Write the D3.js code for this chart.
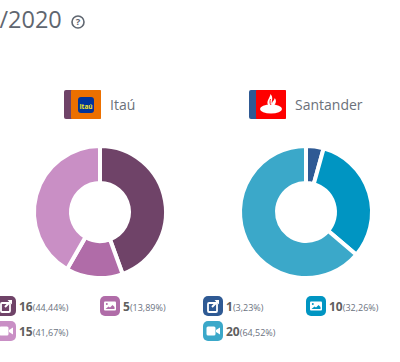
<!DOCTYPE html>
<html>
<head>
<meta charset="utf-8">
<script src="https://cdnjs.cloudflare.com/ajax/libs/d3/7.8.5/d3.min.js"></script>
<style>
  html, body { margin: 0; padding: 0; background: #fff; overflow: hidden; }
  svg { display: block; font-family: "Open Sans", sans-serif; }
</style>
</head>
<body>
<svg id="chart"></svg>
<script>
const banks = ["Itaú", "Santander"];
const itauValues = [16, 5, 15];
const itauPercents = ["44,44%", "13,89%", "41,67%"];
const itauColors = ["#6f4368", "#b06ca8", "#c98fc5"];
const santanderValues = [1, 10, 20];
// the smallest slice is drawn a bit wider than 1/31 in the picture
const santanderSlices = [1.35, 10, 20];
const santanderPercents = ["3,23%", "32,26%", "64,52%"];
const santanderColors = ["#2f5a94", "#0095c2", "#3ba8c9"];
const iconTypes = ["link", "image", "video"];

const width = 400, height = 362;
const svg = d3.select("#chart").attr("width", width).attr("height", height);

// title, cut off by the left edge like in the screenshot
svg.append("text").attr("x", -14).attr("y", 28)
  .attr("font-size", 23.5).attr("fill", "#5f6670").text("0/2020");

// help icon
const help = svg.append("g").attr("transform", "translate(78,22)");
help.append("circle").attr("r", 6).attr("fill", "none").attr("stroke", "#5f6670").attr("stroke-width", 1.6);
help.append("text").attr("text-anchor", "middle").attr("y", 3.4).attr("font-size", 9.5)
  .attr("font-weight", 700).attr("fill", "#5f6670").text("?");

function drawIcon(g, type) {
  if (type === "link") {
    g.append("rect").attr("x", 5).attr("y", 7).attr("width", 9).attr("height", 9).attr("rx", 1)
      .attr("fill", "none").attr("stroke", "#fff").attr("stroke-width", 1.8);
    g.append("path").attr("d", "M9 11L15 5").attr("stroke", "#fff").attr("stroke-width", 2);
    g.append("path").attr("d", "M11.5 4H16V8.5Z").attr("fill", "#fff");
  } else if (type === "image") {
    g.append("rect").attr("x", 4).attr("y", 5.5).attr("width", 12).attr("height", 9).attr("rx", 1).attr("fill", "#fff");
    g.append("circle").attr("cx", 6.8).attr("cy", 8).attr("r", 1).attr("fill", g.attr("data-color"));
    g.append("path").attr("d", "M5.5 13L8.5 10.5L10 11.5L12.5 9L14.5 11V13Z").attr("fill", g.attr("data-color"));
  } else {
    g.append("rect").attr("x", 3.5).attr("y", 5.5).attr("width", 9).attr("height", 9).attr("rx", 1.5).attr("fill", "#fff");
    g.append("path").attr("d", "M13 9L17 6.5V13.5L13 11Z").attr("fill", "#fff");
  }
}

function drawBank(name, values, slices, percents, colors, opt) {
  // logo block with colour strip
  const logo = svg.append("g").attr("transform", `translate(${opt.logoX},90)`);
  logo.append("rect").attr("width", 37).attr("height", 29).attr("rx", 2).attr("fill", colors[0]);
  logo.append("rect").attr("x", 7).attr("width", 30).attr("height", 29).attr("rx", 1).attr("fill", opt.logoColor);
  opt.drawLogo(logo);
  svg.append("text").attr("x", opt.logoX + 46).attr("y", 109.5)
    .attr("font-size", 14).attr("fill", "#6b717a").text(name);

  // donut, the white stroke takes 2px off each edge
  const pie = d3.pie().sort(null).value(d => d);
  const arc = d3.arc().innerRadius(29).outerRadius(66);
  const donut = svg.append("g").attr("transform", `translate(${opt.cx},212)`);
  donut.selectAll("path").data(pie(slices)).join("path")
    .attr("d", arc)
    .attr("fill", (d, i) => colors[i])
    .attr("stroke", "#fff")
    .attr("stroke-width", 4);

  // legend
  const cols = d3.scaleOrdinal().domain([0, 1, 2]).range([opt.legendX, opt.legendX2, opt.legendX]);
  const rows = d3.scaleOrdinal().domain([0, 1, 2]).range([296, 296, 321]);
  values.forEach((v, i) => {
    const g = svg.append("g").attr("transform", `translate(${cols(i)},${rows(i)})`).attr("data-color", colors[i]);
    g.append("rect").attr("width", 20).attr("height", 20).attr("rx", 5).attr("fill", colors[i]);
    drawIcon(g, iconTypes[i]);
    const label = g.append("text").attr("x", 23).attr("y", 14.5);
    label.append("tspan").attr("font-size", 12).attr("font-weight", 700).attr("fill", "#5f5f5f").text(v);
    label.append("tspan").attr("font-size", 9).attr("fill", "#6b7280").text(`(${percents[i]})`);
  });
}

drawBank(banks[0], itauValues, itauValues, itauPercents, itauColors, {
  logoX: 64, logoColor: "#ec7000", cx: 100, legendX: -4, legendX2: 100,
  drawLogo(g) {
    g.append("rect").attr("x", 14).attr("y", 7).attr("width", 16).attr("height", 16).attr("rx", 3).attr("fill", "#003399");
    g.append("text").attr("x", 22).attr("y", 18.5).attr("text-anchor", "middle")
      .attr("font-size", 6.5).attr("font-weight", 700).attr("fill", "#f5e52a").text("Itaú");
  }
});

drawBank(banks[1], santanderValues, santanderSlices, santanderPercents, santanderColors, {
  logoX: 249, logoColor: "#fe0000", cx: 306, legendX: 203, legendX2: 306,
  drawLogo(g) {
    g.append("ellipse").attr("cx", 22).attr("cy", 19).attr("rx", 11).attr("ry", 4.5).attr("fill", "#fff");
    g.append("path").attr("d", "M19 15C17 11 21 8 21.5 4C25 8 22 11 23 14C23 11 26 10 25.5 8C28.5 11 26 14 25 16Z").attr("fill", "#fff");
    g.append("path").attr("d", "M21.5 9C21 11 20.5 13 22 15").attr("fill", "none").attr("stroke", "#fe0000").attr("stroke-width", 0.9);
  }
});
</script>
</body>
</html>
